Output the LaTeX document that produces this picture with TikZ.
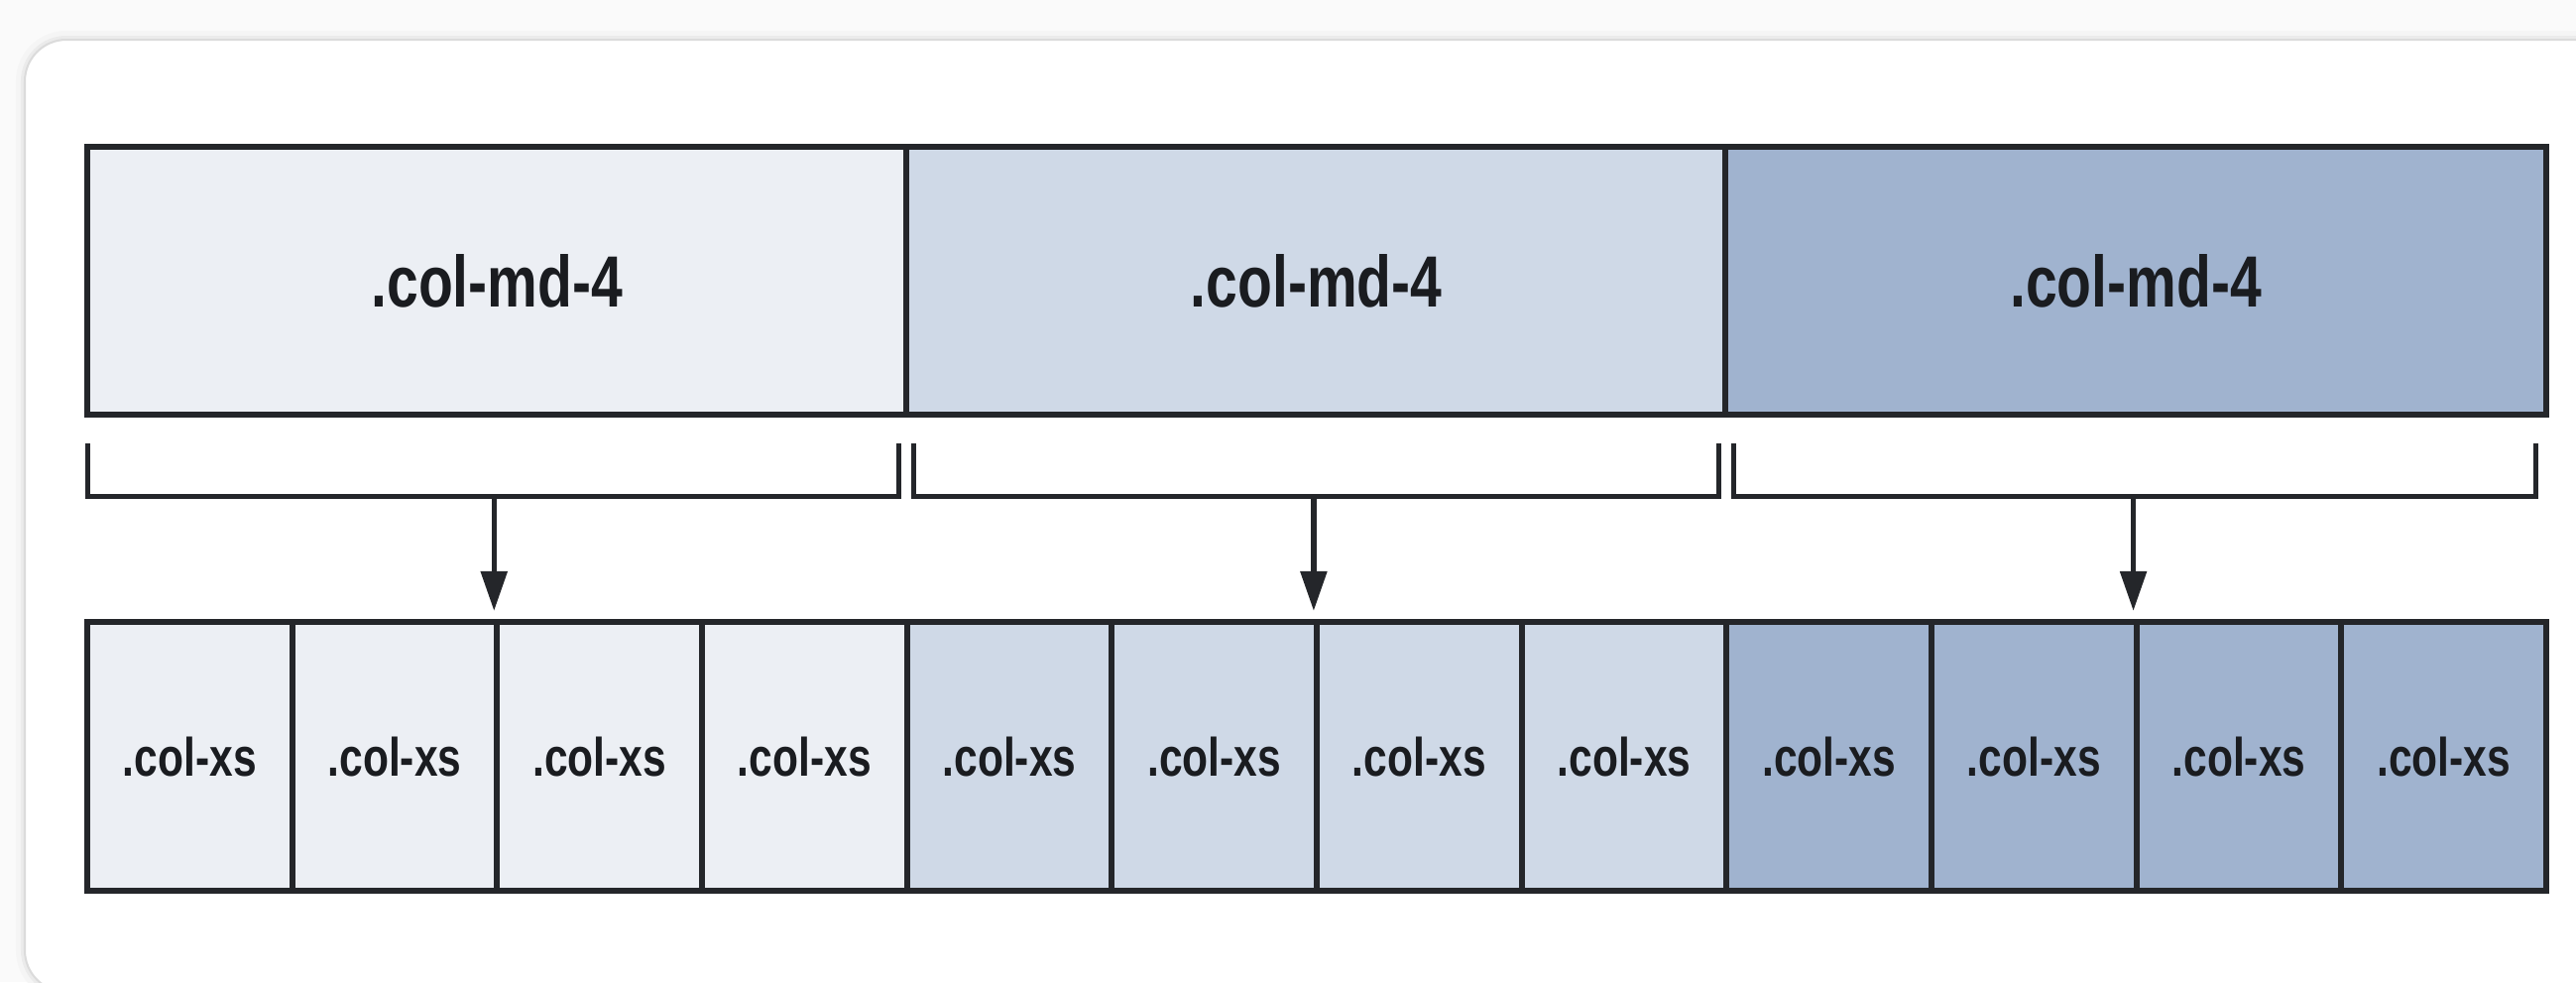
\documentclass[tikz,border=0pt]{standalone}
\usepackage{fontspec}
\newfontfamily\lblfont{Liberation Sans}[FakeStretch=0.78]
\usetikzlibrary{arrows.meta}
\definecolor{cA}{RGB}{236,239,244}
\definecolor{cB}{RGB}{207,217,231}
\definecolor{cC}{RGB}{160,179,207}
\definecolor{lineC}{RGB}{36,38,42}
\definecolor{txtC}{RGB}{26,28,32}
\definecolor{bgC}{RGB}{250,250,250}
\tikzset{
  mdbox/.style={draw=lineC, line width=0.06cm, minimum width=8.266cm, minimum height=2.70cm, inner sep=0pt,
    font=\lblfont\bfseries\fontsize{20.8pt}{22pt}\selectfont, text=txtC},
  xsbox/.style={draw=lineC, line width=0.06cm, minimum width=2.0666cm, minimum height=2.71cm, inner sep=0pt,
    font=\lblfont\bfseries\fontsize{15.5pt}{17pt}\selectfont, text=txtC},
  brk/.style={draw=lineC, line width=0.05cm},
  arr/.style={draw=lineC, line width=0.055cm, shorten >=0.08cm, -{Triangle[length=0.40cm,width=0.26cm]}}
}
\begin{document}
\begin{tikzpicture}[x=0.01cm,y=-0.01cm]
\useasboundingbox (0,0) rectangle (2598,990);
\fill[bgC] (0,0) rectangle (2598,990);
% outer panel with soft shadow
\draw[black!4, line width=0.18cm, rounded corners=0.42cm] (25,40) rectangle (2660,1000);
\draw[black!8, line width=0.08cm, rounded corners=0.42cm] (25,40) rectangle (2660,1000);
\draw[fill=white, draw=black!14, line width=0.02cm, rounded corners=0.42cm] (25,40) rectangle (2660,1000);
% top row
\node[mdbox, fill=cA] (md1) at (501.3,283) {.col-md-4};
\node[mdbox, fill=cB] (md2) at (1327.7,283) {.col-md-4};
\node[mdbox, fill=cC] (md3) at (2154.0,283) {.col-md-4};
% bottom row
\foreach \i in {1,...,12}{
  \pgfmathsetmacro{\cx}{88+206.66*(\i-0.5)}
  \ifnum\i<5 \def\fc{cA}\else\ifnum\i<9 \def\fc{cB}\else\def\fc{cC}\fi\fi
  \node[xsbox, fill=\fc] (xs\i) at (\cx,762.5) {.col-xs};
}
% brackets
\coordinate (b1l) at (88,447);  \coordinate (b1r) at (906,447);
\coordinate (b2l) at (921,447); \coordinate (b2r) at (1733,447);
\coordinate (b3l) at (1748,447); \coordinate (b3r) at (2557,447);
\draw[brk] (b1l) -- ++(0,53) -| (b1r);
\draw[brk] (b2l) -- ++(0,53) -| (b2r);
\draw[brk] (b3l) -- ++(0,53) -| (b3r);
\coordinate (m1) at (xs3.north west |- 0,500);
\coordinate (m2) at (xs7.north west |- 0,500);
\coordinate (m3) at (xs11.north west |- 0,500);
\draw[arr] (m1) -- (xs3.north west);
\draw[arr] (m2) -- (xs7.north west);
\draw[arr] (m3) -- (xs11.north west);
\end{tikzpicture}
\end{document}
